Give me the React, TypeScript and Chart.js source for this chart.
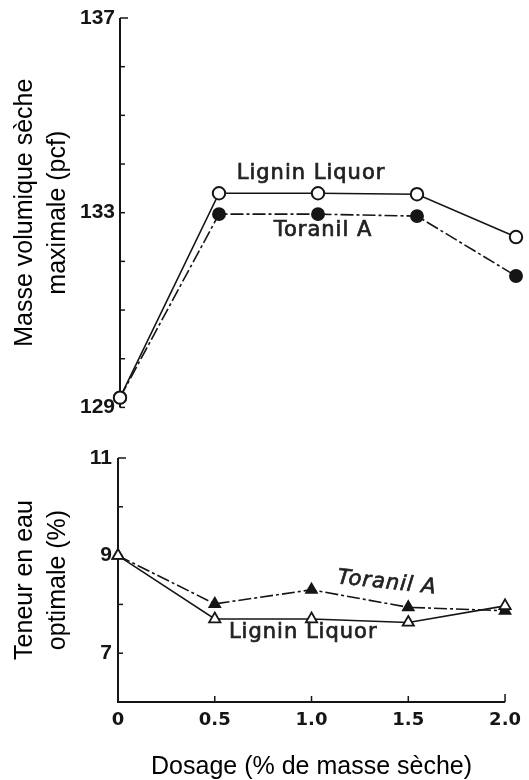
import React, { useEffect, useRef } from "react";
import { Chart, registerables } from "chart.js";

Chart.register(...registerables);

// ---- data ----
const dosages = [0, 0.5, 1.0, 1.5, 2.0];
const densityLignin = [129.2, 133.4, 133.4, 133.38, 132.5];
const densityToranil = [129.2, 132.97, 132.97, 132.93, 131.7];
const waterToranil = [9.0, 8.01, 8.3, 7.94, 7.87];
const waterLignin = [9.0, 7.7, 7.7, 7.63, 7.97];
const densityTickLabels = [129, 133, 137];
const waterTickLabels = [7, 9, 11];
const xTickLabels = ["0", "0.5", "1.0", "1.5", "2.0"];
const seriesNames = ["Lignin Liquor", "Toranil A"];

const INK = "#151515";
const toPoints = (ys: number[]) => dosages.map((x, i) => ({ x, y: ys[i] }));

// draws the axis lines with inward ticks, from the chart's own scales
const axesPlugin = {
  id: "handAxes",
  beforeDatasetsDraw(chart: any, _args: any, opts: any) {
    const { ctx } = chart;
    const ys = chart.scales.y;
    const xs = chart.scales.x;
    const left = chart.chartArea.left;
    ctx.save();
    ctx.strokeStyle = INK;
    ctx.lineCap = "butt";
    ctx.lineWidth = 2;
    ctx.beginPath();
    ctx.moveTo(left, ys.getPixelForValue(ys.max));
    ctx.lineTo(left, ys.getPixelForValue(ys.min));
    ctx.stroke();
    ctx.lineWidth = 1.5;
    ys.ticks.forEach((t: any) => {
      if (t.value === ys.min && opts.xAxis) return;
      const py = ys.getPixelForValue(t.value);
      ctx.beginPath();
      ctx.moveTo(left, py);
      ctx.lineTo(left + (t.value === ys.max ? 8 : 5), py);
      ctx.stroke();
    });
    if (opts.xAxis) {
      const by = ys.getPixelForValue(ys.min);
      ctx.lineWidth = 2;
      ctx.beginPath();
      ctx.moveTo(xs.getPixelForValue(xs.min) - 1, by);
      ctx.lineTo(xs.getPixelForValue(xs.max), by);
      ctx.stroke();
      ctx.lineWidth = 1.5;
      xs.ticks.forEach((t: any) => {
        if (t.value === xs.min) return;
        const px = xs.getPixelForValue(t.value);
        ctx.beginPath();
        ctx.moveTo(px, by);
        ctx.lineTo(px, by - (t.value === xs.max ? 8 : 6));
        ctx.stroke();
      });
    }
    ctx.restore();
  },
};

// in-plot series names, placed in data coordinates
const labelPlugin = {
  id: "seriesLabels",
  afterDatasetsDraw(chart: any, _args: any, opts: any) {
    const { ctx } = chart;
    const xs = chart.scales.x;
    const ys = chart.scales.y;
    (opts.items || []).forEach((it: any) => {
      ctx.save();
      ctx.translate(xs.getPixelForValue(it.x), ys.getPixelForValue(it.y));
      ctx.rotate(((it.angle || 0) * Math.PI) / 180);
      ctx.font = `${it.italic ? "italic " : ""}21px "DejaVu Sans"`;
      try {
        (ctx as any).letterSpacing = "1px";
      } catch (e) {}
      ctx.textAlign = "center";
      ctx.textBaseline = "middle";
      ctx.fillStyle = "#222";
      ctx.strokeStyle = "#222";
      ctx.lineWidth = 0.7;
      ctx.fillText(it.text, 0, 0);
      ctx.strokeText(it.text, 0, 0);
      ctx.restore();
    });
  },
};

const yTickFont = { family: "Liberation Sans, Arial, sans-serif", size: 21, weight: "bold" };
const xTickFont = { family: "DejaVu Sans", size: 18, weight: "bold" };
const titleFont = { family: "Liberation Sans, Arial, sans-serif", size: 25, lineHeight: 1.3 };

function useChart(ref: React.RefObject<HTMLCanvasElement>, build: () => any) {
  useEffect(() => {
    if (!ref.current) return;
    const chart = new Chart(ref.current, build());
    return () => chart.destroy();
  }, []);
}

export default function App() {
  const topRef = useRef<HTMLCanvasElement>(null);
  const botRef = useRef<HTMLCanvasElement>(null);

  useChart(topRef, () => ({
    type: "line",
    data: {
      datasets: [
        {
          label: seriesNames[0],
          data: toPoints(densityLignin),
          borderColor: INK,
          borderWidth: 1.6,
          pointStyle: "circle",
          pointRadius: 6.2,
          pointBorderWidth: 2,
          pointBackgroundColor: "#ffffff",
          pointBorderColor: INK,
          clip: false,
        },
        {
          label: seriesNames[1],
          data: toPoints(densityToranil),
          borderColor: INK,
          borderWidth: 1.6,
          borderDash: [13, 3, 3, 3],
          pointStyle: "circle",
          pointRadius: 6.2,
          pointBorderWidth: 1.5,
          pointBackgroundColor: INK,
          pointBorderColor: INK,
          clip: false,
        },
      ],
    },
    options: {
      animation: false,
      responsive: false,
      layout: { padding: { left: 0, right: 13, top: 18, bottom: 17 } },
      plugins: {
        legend: { display: false },
        tooltip: { enabled: false },
        handAxes: { xAxis: false },
        seriesLabels: {
          items: [
            { text: seriesNames[0], x: 0.965, y: 133.8 },
            { text: seriesNames[1], x: 1.025, y: 132.63 },
          ],
        },
      },
      scales: {
        x: { type: "linear", min: 0, max: 2, display: false },
        y: {
          type: "linear",
          min: 129,
          max: 137,
          afterFit: (s: any) => {
            s.width = 120;
          },
          grid: { display: false, drawTicks: false },
          border: { display: false },
          ticks: {
            stepSize: 1,
            padding: 5,
            color: INK,
            font: yTickFont,
            callback: (v: any) => (densityTickLabels.includes(v) ? String(v) : ""),
          },
          title: {
            display: true,
            text: ["Masse volumique sèche", "maximale (pcf)"],
            color: "#000",
            font: titleFont,
            padding: { top: 9, bottom: 0 },
          },
        },
      },
    },
    plugins: [axesPlugin, labelPlugin],
  }));

  useChart(botRef, () => ({
    type: "line",
    data: {
      datasets: [
        {
          label: seriesNames[0],
          data: toPoints(waterLignin),
          borderColor: INK,
          borderWidth: 1.6,
          pointStyle: "triangle",
          pointRadius: 6.5,
          pointBorderWidth: 1.8,
          pointBackgroundColor: "#ffffff",
          pointBorderColor: INK,
          clip: false,
        },
        {
          label: seriesNames[1],
          data: toPoints(waterToranil),
          borderColor: INK,
          borderWidth: 1.6,
          borderDash: [13, 3, 3, 3],
          pointStyle: "triangle",
          pointRadius: 6.5,
          pointBorderWidth: 1.5,
          pointBackgroundColor: INK,
          pointBorderColor: INK,
          clip: false,
        },
      ],
    },
    options: {
      animation: false,
      responsive: false,
      layout: { padding: { left: 0, right: 17, top: 33, bottom: 0 } },
      plugins: {
        legend: { display: false },
        tooltip: { enabled: false },
        handAxes: { xAxis: true },
        seriesLabels: {
          items: [
            { text: seriesNames[1], x: 1.39, y: 8.44, italic: true, angle: 6 },
            { text: seriesNames[0], x: 0.957, y: 7.43 },
          ],
        },
      },
      scales: {
        x: {
          type: "linear",
          min: 0,
          max: 2,
          afterFit: (s: any) => {
            s.height = 78;
          },
          grid: { display: false, drawTicks: false },
          border: { display: false },
          ticks: {
            stepSize: 0.5,
            padding: 8,
            color: INK,
            font: xTickFont,
            maxRotation: 0,
            callback: (v: any) => {
              const i = dosages.indexOf(Number(v));
              return i >= 0 ? xTickLabels[i] : "";
            },
          },
          title: {
            display: true,
            text: "Dosage (% de masse sèche)",
            color: "#000",
            font: { family: "Liberation Sans, Arial, sans-serif", size: 25, lineHeight: 1 },
            padding: { top: 0, bottom: 0 },
          },
        },
        y: {
          type: "linear",
          min: 6,
          max: 11,
          afterFit: (s: any) => {
            s.width = 118;
          },
          grid: { display: false, drawTicks: false },
          border: { display: false },
          ticks: {
            stepSize: 1,
            padding: 6,
            color: INK,
            font: yTickFont,
            callback: (v: any) => (waterTickLabels.includes(v) ? String(v) : ""),
          },
          title: {
            display: true,
            text: ["Teneur en eau", "optimale (%)"],
            color: "#000",
            font: titleFont,
            padding: { top: 9, bottom: 0 },
          },
        },
      },
    },
    plugins: [axesPlugin, labelPlugin],
  }));

  return (
    <div
      style={{
        position: "absolute",
        left: 0,
        top: 0,
        width: 529,
        height: 780,
        background: "#ffffff",
        overflow: "hidden",
      }}
    >
      <canvas
        ref={topRef}
        width={529}
        height={425}
        style={{ position: "absolute", left: 0, top: 0, width: 529, height: 425 }}
      />
      <canvas
        ref={botRef}
        width={529}
        height={355}
        style={{ position: "absolute", left: 0, top: 425, width: 529, height: 355 }}
      />
    </div>
  );
}
